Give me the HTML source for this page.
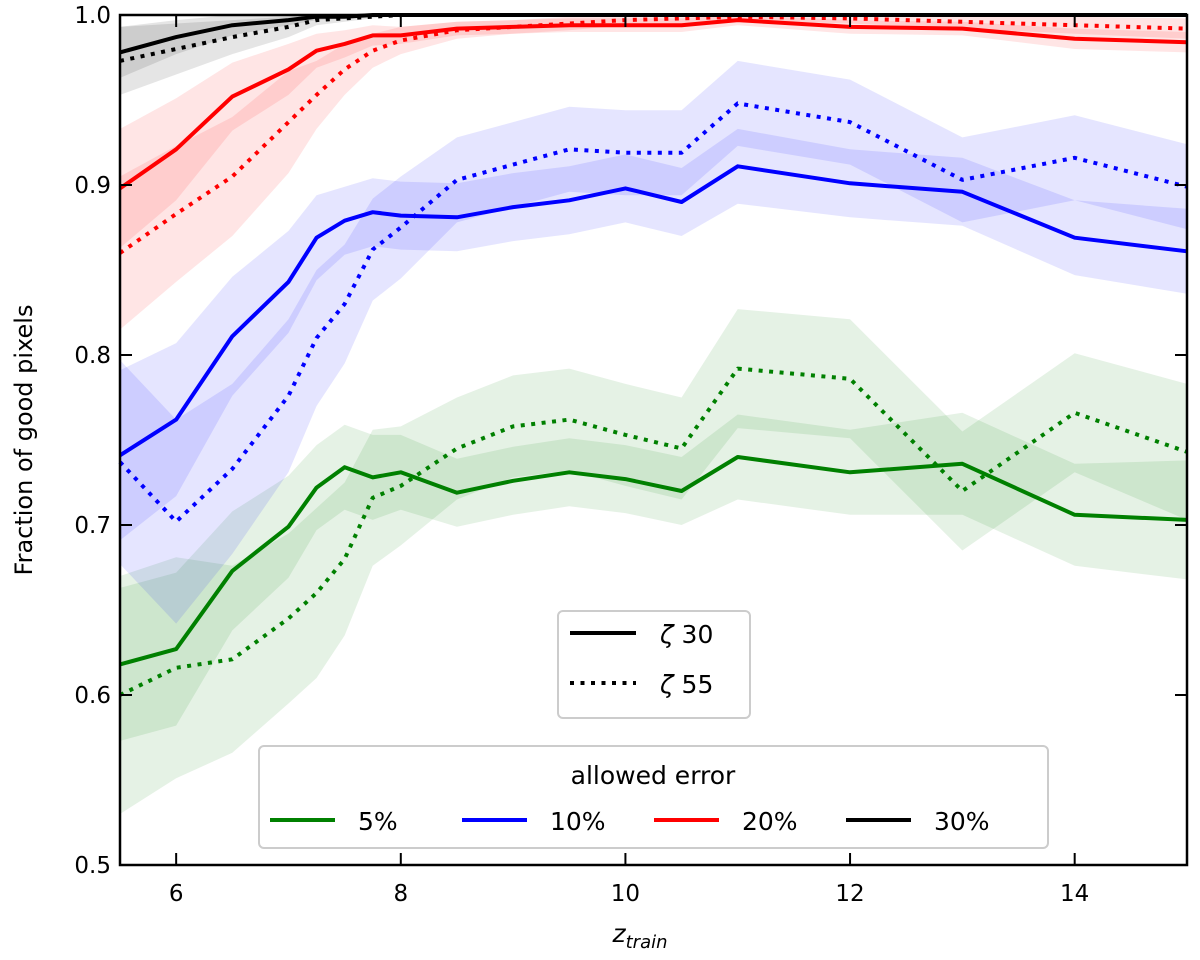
<!DOCTYPE html>
<html><head><meta charset="utf-8">
<style>
html,body{margin:0;padding:0;background:#fff;}
svg{display:block;font-family:"DejaVu Sans","Liberation Sans",sans-serif;}
</style></head>
<body>
<svg id="chart" width="1200" height="960" viewBox="0 0 1200 960">
<g id="bands"></g>
<g id="lines"></g>
<g id="axes"></g>
</svg>
<script>
const zTrain = [5.5,6,6.5,7,7.25,7.5,7.75,8,8.5,9,9.5,10,10.5,11,12,13,14,15];
const green30 = [0.618,0.627,0.673,0.699,0.722,0.734,0.728,0.731,0.719,0.726,0.731,0.727,0.720,0.740,0.731,0.736,0.706,0.703];
const green55 = [0.600,0.616,0.621,0.645,0.660,0.680,0.716,0.723,0.745,0.758,0.762,0.753,0.745,0.792,0.786,0.720,0.766,0.743];
const blue30  = [0.741,0.762,0.811,0.843,0.869,0.879,0.884,0.882,0.881,0.887,0.891,0.898,0.890,0.911,0.901,0.896,0.869,0.861];
const blue55  = [0.737,0.702,0.733,0.776,0.810,0.830,0.862,0.875,0.903,0.912,0.921,0.919,0.919,0.948,0.937,0.903,0.916,0.899];
const red30   = [0.898,0.921,0.952,0.968,0.979,0.983,0.988,0.988,0.992,0.993,0.994,0.994,0.994,0.997,0.993,0.992,0.986,0.984];
const red55   = [0.860,0.883,0.905,0.937,0.953,0.968,0.979,0.985,0.991,0.993,0.995,0.997,0.998,0.999,0.998,0.996,0.994,0.992];
const black30 = [0.978,0.987,0.994,0.997,0.999,0.999,1,1,1,1,1,1,1,1,1,1,1,1];
const black55 = [0.973,0.980,0.987,0.993,0.997,0.998,0.999,1,1,1,1,1,1,1,1,1,1,1];
// band half-widths
const green30Err = [0.045,0.045,0.035,0.03,0.025,0.025,0.025,0.022,0.02,0.02,0.02,0.02,0.02,0.025,0.025,0.03,0.03,0.035];
const green55Err = [0.07,0.065,0.055,0.05,0.05,0.045,0.04,0.035,0.03,0.03,0.03,0.03,0.03,0.035,0.035,0.035,0.035,0.04];
const blue30Err  = [0.05,0.045,0.035,0.03,0.025,0.02,0.02,0.02,0.02,0.02,0.02,0.02,0.02,0.022,0.02,0.02,0.022,0.025];
const blue55Err  = [0.06,0.06,0.05,0.045,0.04,0.035,0.03,0.03,0.025,0.025,0.025,0.025,0.025,0.025,0.025,0.025,0.025,0.025];
const red30Err   = [0.035,0.03,0.02,0.015,0.01,0.008,0.006,0.005,0.004,0.004,0.004,0.004,0.004,0.003,0.004,0.004,0.006,0.006];
const red55Err   = [0.045,0.04,0.035,0.03,0.02,0.015,0.01,0.008,0.005,0.004,0.004,0.003,0.003,0.002,0.003,0.004,0.005,0.006];
const black30Err = [0.015,0.01,0.006,0.003,0.002,0.001,0,0,0,0,0,0,0,0,0,0,0,0];
const black55Err = [0.02,0.015,0.01,0.006,0.003,0.002,0.001,0,0,0,0,0,0,0,0,0,0,0];
const xTicks = [6,8,10,12,14];
const yTicks = [0.5,0.6,0.7,0.8,0.9,1.0];
const legendErr = ["5%","10%","20%","30%"];
const legendStyle = ["ζ 30","ζ 55"];

const L=120,R=1187,T=15,B=865;
const xMin=5.5,xMax=15,yMin=0.5,yMax=1.0;
const X=v=>L+(v-xMin)/(xMax-xMin)*(R-L);
const Y=v=>B-(v-yMin)/(yMax-yMin)*(B-T);
const NS="http://www.w3.org/2000/svg";
function mk(tag,attrs,parent){const e=document.createElementNS(NS,tag);for(const k in attrs)e.setAttribute(k,attrs[k]);parent.appendChild(e);return e;}
const bands=document.getElementById('bands'),lines=document.getElementById('lines'),axes=document.getElementById('axes'),svg=document.getElementById('chart');

const series=[
 ["green",green30,green30Err,false],["green",green55,green55Err,true],
 ["blue",blue30,blue30Err,false],["blue",blue55,blue55Err,true],
 ["red",red30,red30Err,false],["red",red55,red55Err,true],
 ["black",black30,black30Err,false],["black",black55,black55Err,true]];
const fillCol={green:"#008000",blue:"#0000ff",red:"#ff0000",black:"#000000"};
series.forEach(([c,vals,err,dot])=>{
  let up=zTrain.map((z,i)=>X(z)+","+Y(Math.min(1.0,vals[i]+err[i])));
  let lo=zTrain.map((z,i)=>X(z)+","+Y(vals[i]-err[i])).reverse();
  const p=mk('polygon',{points:up.concat(lo).join(" "),fill:fillCol[c],'fill-opacity':0.1,stroke:'none'},bands);
  
  
});
series.forEach(([c,vals,err,dot])=>{
  const pts=zTrain.map((z,i)=>X(z)+","+Y(vals[i])).join(" ");
  const a={points:pts,fill:'none',stroke:fillCol[c],'stroke-width':4,'stroke-linejoin':'round'};
  if(dot){a['stroke-dasharray']='4,6.5';}
  const l=mk('polyline',a,lines);
  
  
});
const fr=mk('rect',{x:L,y:T,width:R-L,height:B-T,fill:'none',stroke:'#000','stroke-width':2.5},axes);


xTicks.forEach(t=>{
  mk('line',{x1:X(t),x2:X(t),y1:B,y2:B-12,stroke:'#000','stroke-width':2},axes);
  mk('line',{x1:X(t),x2:X(t),y1:T,y2:T+12,stroke:'#000','stroke-width':2},axes);
  const tx=mk('text',{x:X(t),y:B+36,'text-anchor':'middle','font-size':23},axes);
  tx.textContent=t;
  
  
});
yTicks.forEach(t=>{
  mk('line',{x1:L,x2:L+12,y1:Y(t),y2:Y(t),stroke:'#000','stroke-width':2},axes);
  mk('line',{x1:R,x2:R-12,y1:Y(t),y2:Y(t),stroke:'#000','stroke-width':2},axes);
  const tx=mk('text',{x:L-9,y:Y(t)+8,'text-anchor':'end','font-size':23},axes);
  tx.textContent=t.toFixed(1);
  
  
});
const yl=mk('text',{x:32,y:440,'text-anchor':'middle','font-size':24,transform:'rotate(-90 32 440)'},axes);
yl.textContent='Fraction of good pixels';


const xl=mk('text',{x:640,y:942,'text-anchor':'middle','font-size':25,'font-style':'italic'},axes);
xl.innerHTML='z<tspan font-size="18" dy="6">train</tspan>';



const lg1=mk('g',{},svg);


mk('rect',{x:558,y:611,width:192,height:107,rx:5,fill:'#fff','fill-opacity':0.85,stroke:'#ccc','stroke-width':2},lg1);
legendStyle.forEach((s,i)=>{
  const y=633+i*50;
  const a={x1:570,x2:636,y1:y,y2:y,stroke:'#000','stroke-width':4};
  if(i==1)a['stroke-dasharray']='4,6.5';
  mk('line',a,lg1);
  const tx=mk('text',{x:660,y:y+10,'font-size':25},lg1);
  tx.innerHTML='<tspan font-style="italic">ζ</tspan> '+s.split(' ')[1];
  
  
});
const lg2=mk('g',{},svg);


mk('rect',{x:259,y:746,width:789,height:102,rx:5,fill:'#fff','fill-opacity':0.85,stroke:'#ccc','stroke-width':2},lg2);
const lt=mk('text',{x:653,y:784,'text-anchor':'middle','font-size':25},lg2);
lt.textContent='allowed error';


const cols=['green','blue','red','black'];
legendErr.forEach((s,i)=>{
  const x0=270+i*192;
  mk('line',{x1:x0,x2:x0+65,y1:820,y2:820,stroke:fillCol[cols[i]],'stroke-width':4},lg2);
  const tx=mk('text',{x:x0+88,y:830,'font-size':25},lg2);
  tx.textContent=s;
  
  
});
</script>
</body></html>
